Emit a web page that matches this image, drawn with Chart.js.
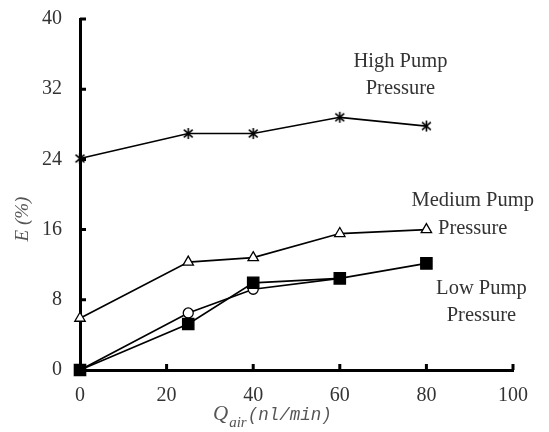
<!DOCTYPE html>
<html>
<head>
<meta charset="utf-8">
<script src="https://cdn.jsdelivr.net/npm/chart.js@4/dist/chart.umd.min.js"></script>
<style>
html,body{margin:0;padding:0;background:#fff;}
#wrap{width:549px;height:432px;position:relative;}
</style>
</head>
<body>
<div id="wrap"><canvas id="c" width="549" height="432"></canvas></div>
<script>
// ---- data ----
const qAir = [0, 25, 40, 60, 80];
const highPump = [24.1, 26.95, 26.95, 28.8, 27.8];
const mediumPump = [5.9, 12.3, 12.8, 15.55, 16.0];
const lowPump = [0, 5.24, 9.94, 10.44, 12.15];
const lowPumpOpen = [0, 6.5, 9.2, 10.44];
const xTicks = [0, 20, 40, 60, 80, 100];
const yTicks = [0, 8, 16, 24, 32, 40];
const labels = [
  {lines: ["High Pump", "Pressure"], x: 74, y: 35.2},
  {lines: ["Medium Pump", "Pressure"], x: 90.7, y: 19.3},
  {lines: ["Low Pump", "Pressure"], x: 92.7, y: 9.3}
];

function pts(xs, ys) { return ys.map((v, i) => ({x: xs[i], y: v})); }

// asterisk marker
function makeAsterisk() {
  const cv = document.createElement('canvas');
  cv.width = 13; cv.height = 13;
  const g = cv.getContext('2d');
  g.strokeStyle = '#000'; g.lineWidth = 1.6;
  const c = 6.5, r = 5.5;
  g.beginPath();
  g.moveTo(c, c - r); g.lineTo(c, c + r);
  g.moveTo(c - r * 0.8, c - r * 0.7); g.lineTo(c + r * 0.8, c + r * 0.7);
  g.moveTo(c + r * 0.8, c - r * 0.7); g.lineTo(c - r * 0.8, c + r * 0.7);
  g.stroke();
  return cv;
}

const serif = '"Liberation Serif", "DejaVu Serif", serif';

const decor = {
  id: 'decor',
  afterDraw(chart) {
    const ctx = chart.ctx;
    const xs = chart.scales.x, ys = chart.scales.y;
    const x0 = xs.getPixelForValue(0), y0 = ys.getPixelForValue(0);
    ctx.save();
    // inner tick marks
    ctx.strokeStyle = '#000'; ctx.lineWidth = 3;
    ctx.beginPath();
    yTicks.forEach(v => { if (v === 0) return; const p = ys.getPixelForValue(v); ctx.moveTo(x0, p); ctx.lineTo(x0 + 6, p); });
    xTicks.forEach(v => { if (v === 0) return; const p = xs.getPixelForValue(v); ctx.moveTo(p, y0); ctx.lineTo(p, y0 - 6); });
    ctx.stroke();
    // annotations
    ctx.fillStyle = '#333';
    ctx.font = '20.5px ' + serif;
    ctx.textAlign = 'center'; ctx.textBaseline = 'middle';
    labels.forEach(l => {
      const px = xs.getPixelForValue(l.x), py = ys.getPixelForValue(l.y);
      l.lines.forEach((t, i) => ctx.fillText(t, px, py + i * 27.5));
    });
    // y title
    ctx.save();
    ctx.translate(23, 219);
    ctx.rotate(-Math.PI / 2);
    ctx.fillStyle = '#555';
    ctx.font = 'italic 19px ' + serif;
    ctx.textAlign = 'center'; ctx.textBaseline = 'middle';
    ctx.fillText('E (%)', 0, 0);
    ctx.restore();
    // x title
    ctx.fillStyle = '#555';
    ctx.textAlign = 'left'; ctx.textBaseline = 'alphabetic';
    let cx = 213;
    ctx.font = 'italic 21px ' + serif;
    ctx.fillText('Q', cx, 420); cx += ctx.measureText('Q').width + 1;
    ctx.font = 'italic 15px ' + serif;
    ctx.fillText('air', cx, 427); cx += ctx.measureText('air').width + 1;
    ctx.font = 'italic 17.5px "Liberation Mono", "DejaVu Sans Mono", monospace';
    ctx.fillText('(nl/min)', cx, 420);
    ctx.restore();
  }
};

const common = {borderColor: '#000', borderWidth: 1.7, pointBorderColor: '#000', pointBorderWidth: 1.3, showLine: true, fill: false, tension: 0, clip: false};

new Chart(document.getElementById('c'), {
  type: 'scatter',
  data: {
    datasets: [
      Object.assign({}, common, {label: 'High', data: pts(qAir, highPump), pointStyle: makeAsterisk(), pointRadius: 6, order: 0}),
      Object.assign({}, common, {label: 'Medium', data: pts(qAir, mediumPump), pointStyle: 'triangle', pointRadius: 6, pointBackgroundColor: '#fff', order: 0}),
      Object.assign({}, common, {label: 'Low', data: pts(qAir, lowPump), pointStyle: 'rect', pointRadius: 8, pointBackgroundColor: '#000', order: 0}),
      Object.assign({}, common, {label: 'LowOpen', data: pts(qAir, lowPumpOpen), pointStyle: 'circle', pointRadius: 5, pointBackgroundColor: '#fff', order: 1})
    ]
  },
  options: {
    responsive: false,
    animation: false,
    layout: {padding: {left: 0, right: 36, top: 19, bottom: 0}},
    plugins: {legend: {display: false}, tooltip: {enabled: false}},
    scales: {
      x: {
        type: 'linear', min: 0, max: 100,
        afterBuildTicks: s => { s.ticks = xTicks.map(v => ({value: v})); },
        afterFit: s => { s.height = 62; s.paddingLeft = 0; s.paddingRight = 0; },
        grid: {display: false, drawTicks: false},
        border: {display: true, color: '#000', width: 3},
        ticks: {padding: 14, color: '#333', font: {family: serif, size: 20}, maxRotation: 0}
      },
      y: {
        type: 'linear', min: 0, max: 40,
        afterBuildTicks: s => { s.ticks = yTicks.map(v => ({value: v})); },
        afterFit: s => { s.width = 80; s.paddingTop = 0; s.paddingBottom = 0; },
        grid: {display: false, drawTicks: false},
        border: {display: true, color: '#000', width: 3},
        ticks: {padding: 18, color: '#333', font: {family: serif, size: 20}}
      }
    }
  },
  plugins: [decor]
});
</script>
</body>
</html>
